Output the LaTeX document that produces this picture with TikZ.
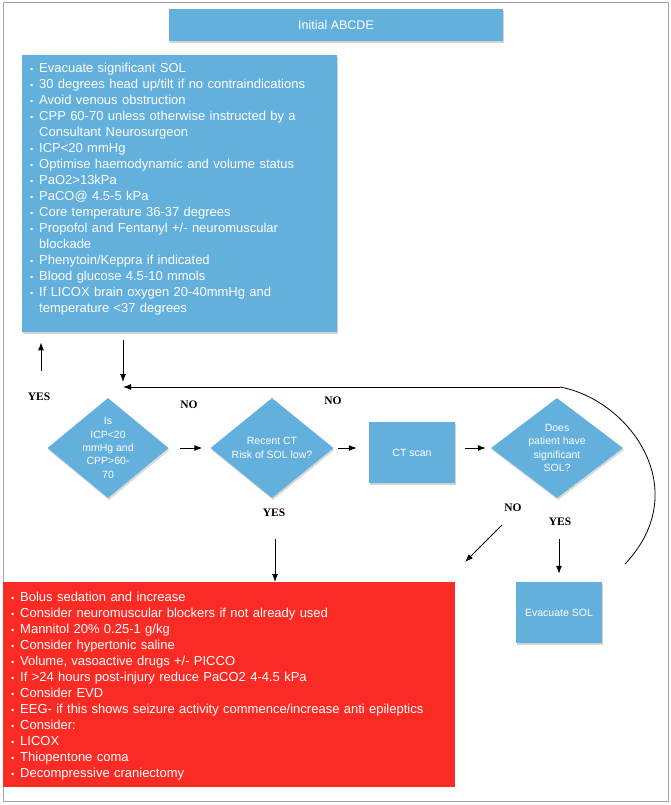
\documentclass[tikz,border=0pt]{standalone}
\usepackage{fontspec}
\setmainfont{Liberation Sans}
\newfontfamily\answerfont{Liberation Serif}
\usepackage{xcolor}
\usetikzlibrary{shapes.geometric,shadows,arrows.meta}
\definecolor{icpblue}{RGB}{99,176,220}
\definecolor{icpred}{RGB}{250,42,36}
\definecolor{framegray}{RGB}{165,165,165}
\newcommand{\bul}{\makebox[9pt][l]{\fontsize{9}{9}\selectfont\textbullet}}
\newcommand{\cont}{\hspace*{9pt}}

\begin{document}
\begin{tikzpicture}[x=1pt,y=-1pt]
            \tikzset{
            icp box/.style={rectangle,fill=icpblue,inner sep=0,text=white,font=\fontsize{10.5}{13}\selectfont,
              drop shadow={opacity=0.35,shadow xshift=1pt,shadow yshift=-2pt}},
            icp diamond/.style={diamond,fill=icpblue,inner sep=-10pt,minimum width=121pt,minimum height=100pt,
              align=center,text=white,font=\fontsize{10.5}{13.3}\selectfont,
              drop shadow={opacity=0.3,shadow xshift=1pt,shadow yshift=-2pt}},
            icp list/.style={anchor=base west,text width=440pt,align=left,inner sep=0,text=white,font=\fontsize{13}{16}\selectfont},
            icp answer/.style={font=\answerfont\bfseries\fontsize{11.5}{12}\selectfont,inner sep=0},
            icp arrow/.style={-{Latex[length=8pt,width=6pt]},line width=1pt}
            }
            \useasboundingbox (0,0) rectangle (671,805);
            \draw[framegray,line width=1pt] (3,3) rectangle (668,801);

            \node[icp box,minimum width=334pt,minimum height=32pt,font=\fontsize{12.5}{15}\selectfont] (abcde) at (336,25) {Initial ABCDE};
            \node[icp box,anchor=north west,minimum width=315pt,minimum height=277pt] (measures) at (22,55) {};
            \node[icp list] (measures text) at (30,73) {\bul Evacuate significant SOL\\
              \bul 30 degrees head up/tilt if no contraindications\\
              \bul Avoid venous obstruction\\
              \bul CPP 60-70 unless otherwise instructed by a\\
              \cont Consultant Neurosurgeon\\
              \bul ICP<20 mmHg\\
              \bul Optimise haemodynamic and volume status\\
              \bul PaO2>13kPa\\
              \bul PaCO@ 4.5-5 kPa\\
              \bul Core temperature 36-37 degrees\\
              \bul Propofol and Fentanyl +/- neuromuscular\\
              \cont blockade\\
              \bul Phenytoin/Keppra if indicated\\
              \bul Blood glucose 4.5-10 mmols\\
              \bul If LICOX brain oxygen 20-40mmHg and\\
              \cont temperature <37 degrees};

            \node[icp diamond] (icp ok) at (108,448) {Is\\ICP<20\\mmHg and\\CPP>60-\\70};
            \node[icp diamond,minimum width=123pt] (recent ct) at (272,448) {Recent CT\\Risk of SOL low?};
            \node[icp box,minimum width=86pt,minimum height=61pt] (ct scan) at (412,452.5) {CT scan};
            \node[icp diamond,minimum width=132pt] (sol) at (557,448) {Does\\patient have\\significant\\SOL?};
            \node[icp box,minimum width=86pt,minimum height=61pt] (evacuate) at (559,612.5) {Evacuate SOL};

            \node[fill=icpred,anchor=north west,minimum width=452pt,minimum height=205pt,inner sep=0] (escalate) at (3,582) {};
            \node[icp list] (escalate text) at (11,601) {\bul Bolus sedation and increase\\
              \bul Consider neuromuscular blockers if not already used\\
              \bul Mannitol 20\% 0.25-1 g/kg\\
              \bul Consider hypertonic saline\\
              \bul Volume, vasoactive drugs +/- PICCO\\
              \bul If >24 hours post-injury reduce PaCO2 4-4.5 kPa\\
              \bul Consider EVD\\
              \bul EEG- if this shows seizure activity commence/increase anti epileptics\\
              \bul Consider:\\
              \bul LICOX\\
              \bul Thiopentone coma\\
              \bul Decompressive craniectomy};

            \node[icp answer] (yes up label) at (39,397) {YES};
            \node[icp answer] (no ct label) at (189,405) {NO};
            \node[icp answer] (no loop label) at (333,401) {NO};
            \node[icp answer] (yes red label) at (274,513) {YES};
            \node[icp answer] (no sol label) at (513,508) {NO};
            \node[icp answer] (yes sol label) at (560,522) {YES};

            \coordinate (yes up) at (41,371);
            \coordinate (loop in) at (123,387);
            \coordinate (loop turn) at (560,387);
            \coordinate (loop out) at (625,564);
            \coordinate (yes red) at (275,539);
            \coordinate (no tail) at (502,525);
            \coordinate (no head) at (465,562);

            \path[icp arrow]
            (icp ok) edge[shorten <=11pt,shorten >=8pt] (recent ct)
            (recent ct) edge[shorten <=4pt,shorten >=12pt] (recent ct -| ct scan.west)
            (ct scan.east |- sol) edge[shorten <=10pt,shorten >=5pt] (sol)
            (evacuate |- sol.south) edge[shorten <=41pt,shorten >=8pt] (evacuate)
            (yes red) edge (yes red |- escalate.north)
            (yes up) edge[shorten >=10pt] (yes up |- measures.south)
            (measures.south -| loop in) edge[shorten <=8pt,shorten >=5pt] (loop in)
            (loop turn) edge (loop in)
            (no tail) edge (no head)
            ;
            \draw[line width=0.8pt] (loop out) .. controls (695,490) and (630,400) .. (loop turn);
\end{tikzpicture}
\end{document}
